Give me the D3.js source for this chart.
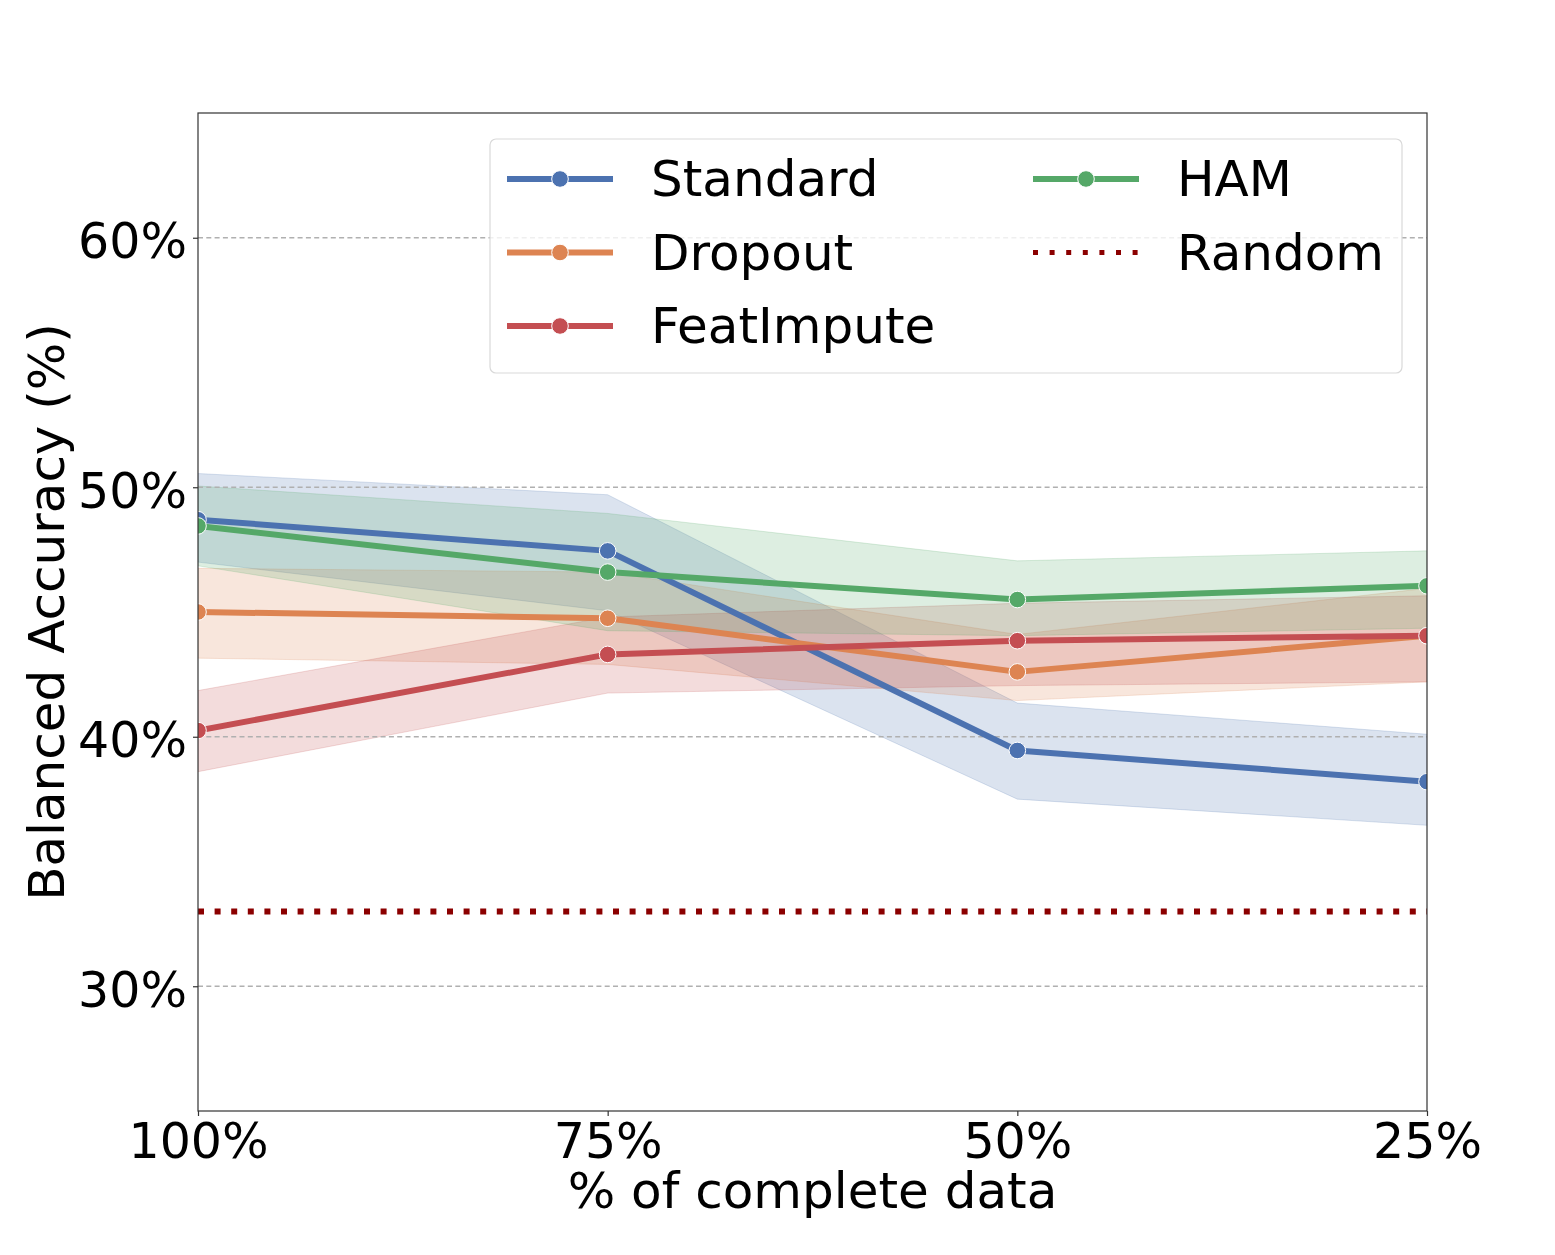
<!DOCTYPE html>
<html>
<head>
<meta charset="utf-8">
<script src="https://cdn.jsdelivr.net/npm/d3@7"></script>
<style>
  body { margin: 0; background: #fff; }
  text { font-family: "DejaVu Sans", sans-serif; fill: #000; }
</style>
</head>
<body>
<svg id="vis" width="1555" height="1255"></svg>
<script>
// data
const xLabels = ["100%", "75%", "50%", "25%"]
const yTicks = [30, 40, 50, 60]

const standardMean = [48.7, 47.45, 39.45, 38.2]
const standardLow  = [47.0, 45.05, 37.5, 36.45]
const standardHigh = [50.55, 49.7, 41.35, 40.1]

const dropoutMean = [45.0, 44.75, 42.6, 44.05]
const dropoutLow  = [43.15, 42.9, 41.45, 42.2]
const dropoutHigh = [46.75, 46.6, 44.1, 45.95]

const imputeMean = [40.25, 43.3, 43.85, 44.05]
const imputeLow  = [38.6, 41.75, 42.05, 42.2]
const imputeHigh = [41.85, 44.8, 45.35, 45.65]

const hamMean = [48.45, 46.6, 45.5, 46.05]
const hamLow  = [46.85, 44.25, 44.05, 44.35]
const hamHigh = [50.05, 48.95, 47.05, 47.45]

const randomLevel = 33.0

const series = [
  {name: "Standard",   color: "#4C72B0", mean: standardMean, low: standardLow, high: standardHigh},
  {name: "Dropout",    color: "#DD8452", mean: dropoutMean,  low: dropoutLow,  high: dropoutHigh},
  {name: "FeatImpute", color: "#C44E52", mean: imputeMean,   low: imputeLow,   high: imputeHigh},
  {name: "HAM",        color: "#55A868", mean: hamMean,      low: hamLow,      high: hamHigh}
]

const margin = {top: 113, right: 128, bottom: 144, left: 198}
const W = 1555, H = 1255
const width = W - margin.left - margin.right
const height = H - margin.top - margin.bottom

const svg = d3.select("#vis")
const chart = svg.append("g").attr("transform", `translate(${margin.left},${margin.top})`)

svg.append("defs").append("clipPath").attr("id", "plotclip")
  .append("rect").attr("width", width).attr("height", height)

const x = d3.scalePoint().domain(xLabels).range([0, width])
const y = d3.scaleLinear().domain([25, 65]).range([height, 0])

const plot = chart.append("g").attr("clip-path", "url(#plotclip)")

// bands
const area = d3.area()
  .x((d, i) => x(xLabels[i]))
  .y0(d => y(d[0]))
  .y1(d => y(d[1]))

series.forEach(s => {
  plot.append("path")
    .datum(s.low.map((v, i) => [v, s.high[i]]))
    .attr("d", area)
    .attr("fill", s.color)
    .attr("fill-opacity", 0.2)
    .attr("stroke", s.color)
    .attr("stroke-opacity", 0.2)
    .attr("stroke-width", 1)
})

// grid
plot.selectAll(".grid").data(yTicks).join("line")
  .attr("x1", 0).attr("x2", width)
  .attr("y1", d => y(d)).attr("y2", d => y(d))
  .attr("stroke", "#b0b0b0")
  .attr("stroke-width", 1.3)
  .attr("stroke-dasharray", "5,3.3")

// lines + markers
const line = d3.line()
  .x((d, i) => x(xLabels[i]))
  .y(d => y(d))

series.forEach(s => {
  plot.append("path")
    .datum(s.mean)
    .attr("d", line)
    .attr("fill", "none")
    .attr("stroke", s.color)
    .attr("stroke-width", 6)
    .attr("stroke-linejoin", "round")
  plot.selectAll(null).data(s.mean).join("circle")
    .attr("cx", (d, i) => x(xLabels[i]))
    .attr("cy", d => y(d))
    .attr("r", 8.3)
    .attr("fill", s.color)
    .attr("stroke", "#fff")
    .attr("stroke-width", 1)
})

// random baseline
plot.append("line")
  .attr("x1", 0).attr("x2", width)
  .attr("y1", y(randomLevel)).attr("y2", y(randomLevel))
  .attr("stroke", "#8B0000")
  .attr("stroke-width", 6)
  .attr("stroke-dasharray", "6,10.6")

// axes
const xAxis = chart.append("g")
  .attr("transform", `translate(0,${height})`)
  .call(d3.axisBottom(x).tickSize(5).tickPadding(8))
const yAxis = chart.append("g")
  .call(d3.axisLeft(y).tickValues(yTicks).tickFormat(d => d + "%").tickSize(5).tickPadding(6))

;[xAxis, yAxis].forEach(a => {
  a.select(".domain").remove()
  a.selectAll(".tick line").attr("stroke", "#333").attr("stroke-width", 1.2)
  a.selectAll(".tick text").attr("font-size", 49).attr("font-family", "DejaVu Sans").attr("fill", "#000")
})
xAxis.selectAll(".tick text").attr("dy", null).attr("y", 47)
yAxis.selectAll(".tick text").attr("dy", null).attr("y", 20)

// spines
chart.append("rect")
  .attr("width", width).attr("height", height)
  .attr("fill", "none")
  .attr("stroke", "#333")
  .attr("stroke-width", 1.2)

// axis titles
svg.append("text")
  .attr("x", margin.left + width / 2).attr("y", 1208)
  .attr("text-anchor", "middle")
  .attr("font-size", 50)
  .text("% of complete data")

svg.append("text")
  .attr("transform", `translate(64,${margin.top + height / 2}) rotate(-90)`)
  .attr("text-anchor", "middle")
  .attr("font-size", 50)
  .text("Balanced Accuracy (%)")

// legend
const legend = svg.append("g").attr("transform", "translate(490,139)")
legend.append("rect")
  .attr("width", 912).attr("height", 234)
  .attr("rx", 6)
  .attr("fill", "#fff").attr("fill-opacity", 0.8)
  .attr("stroke", "#d9d9d9").attr("stroke-width", 1.2)

const legendItems = series.map(s => ({name: s.name, color: s.color, dotted: false}))
legendItems.push({name: "Random", color: "#8B0000", dotted: true})

const colX = [17, 543]
const rowY = [40, 113.5, 187]
legendItems.forEach((d, i) => {
  const col = i < 3 ? 0 : 1
  const row = i < 3 ? i : i - 3
  const g = legend.append("g").attr("transform", `translate(${colX[col]},${rowY[row]})`)
  g.append("line")
    .attr("x1", 0).attr("x2", 106)
    .attr("stroke", d.color)
    .attr("stroke-width", d.dotted ? 5 : 6)
    .attr("stroke-dasharray", d.dotted ? "5,11.6" : null)
  if (!d.dotted) {
    g.append("circle").attr("cx", 53).attr("r", 8.3)
      .attr("fill", d.color).attr("stroke", "#fff").attr("stroke-width", 1)
  }
  g.append("text")
    .attr("x", 144).attr("y", 17)
    .attr("font-size", 50)
    .text(d.name)
})
</script>
</body>
</html>
